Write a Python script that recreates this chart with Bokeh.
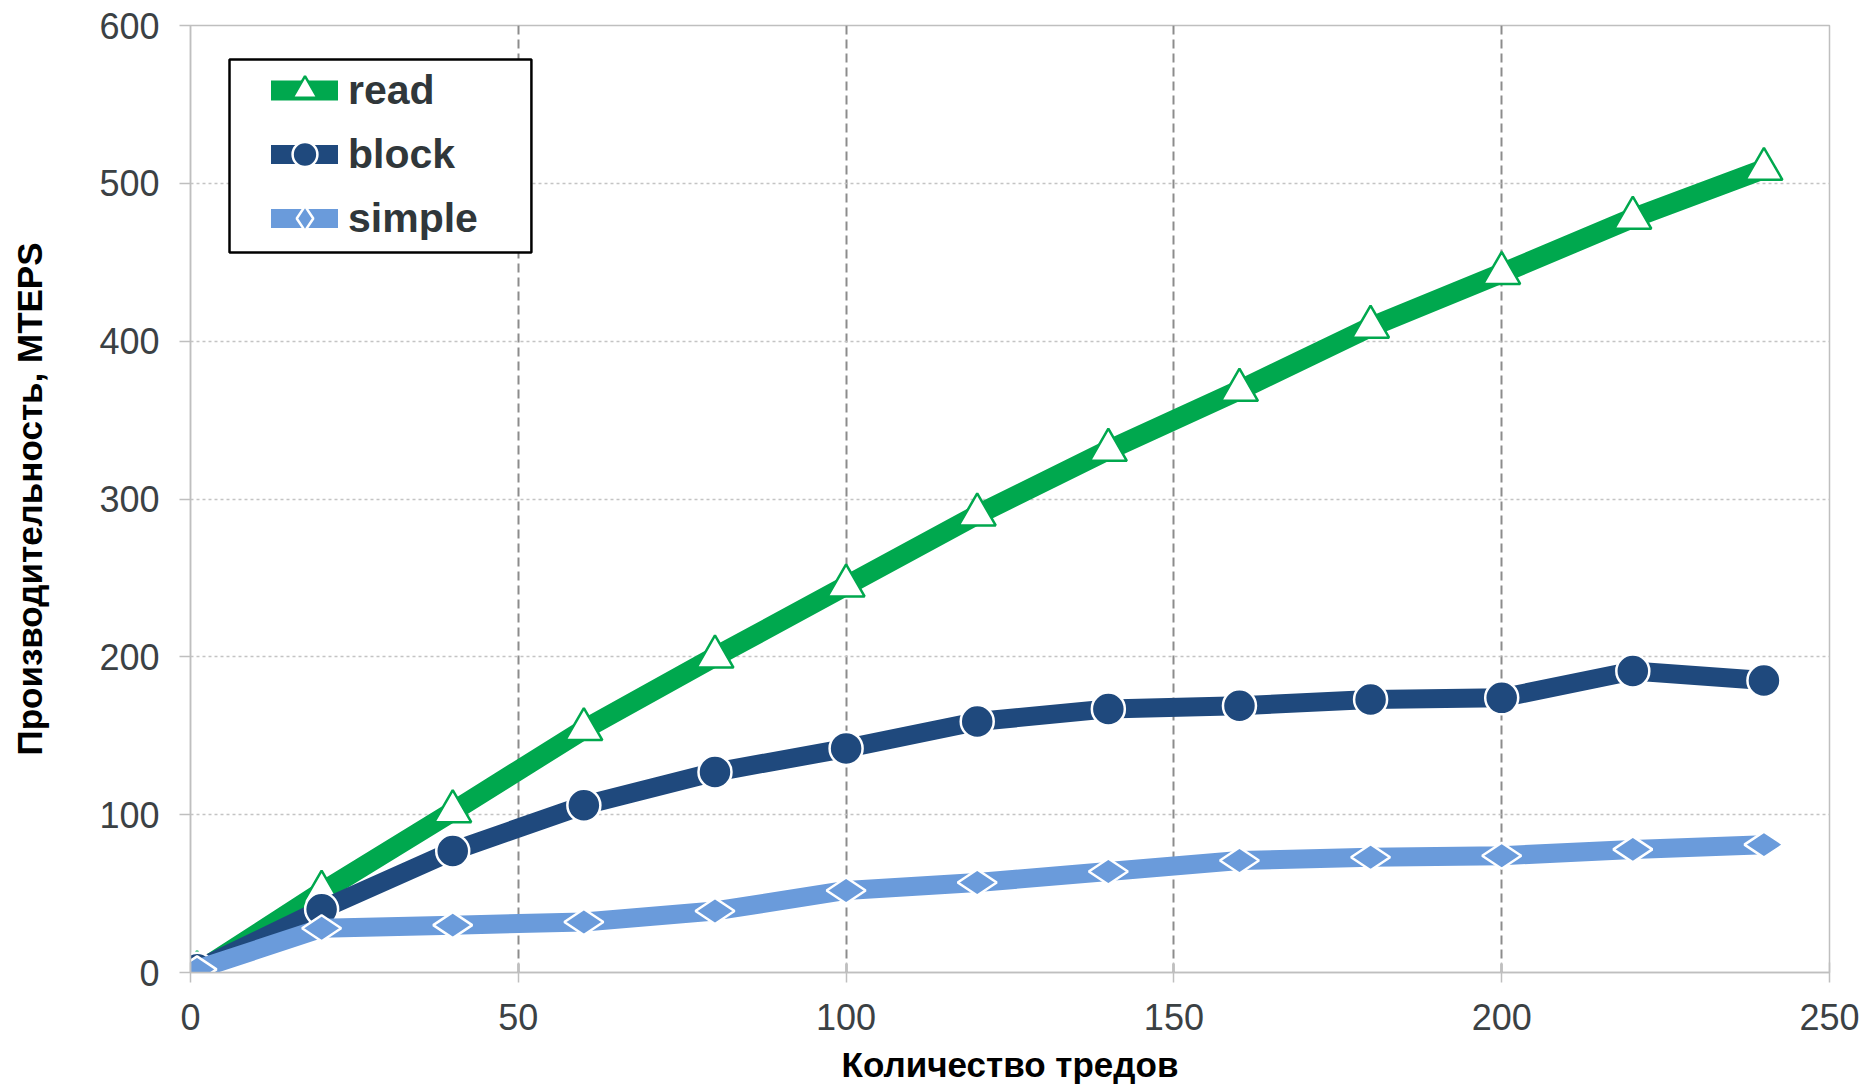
import math
from bokeh.plotting import figure
from bokeh.models import FixedTicker, Legend, LegendItem, BoxAnnotation, Range1d
from bokeh.embed import file_html
from bokeh.resources import INLINE

# ---- data ----
threads = [1, 20, 40, 60, 80, 100, 120, 140, 160, 180, 200, 220, 240]
read = [0, 51, 102, 154, 200, 245, 290, 331, 369, 409, 443, 478, 509]
block = [2, 40, 77, 106, 127, 142, 159, 167, 169, 173, 174, 191, 185]
simple = [2, 28, 30, 32, 39, 52, 57, 64, 71, 73, 74, 78, 81]
x_ticks = [0, 50, 100, 150, 200, 250]
y_ticks = [0, 100, 200, 300, 400, 500, 600]
series_names = ["read", "block", "simple"]
x_title = "Количество тредов"
y_title = "Производительность, MTEPS"

GREEN = "#00A84E"
NAVY = "#1F497D"
LIGHT = "#6A9BDB"
AXIS_GRAY = "#BFBFBF"
TICK_TEXT = "#3B4144"

p = figure(frame_width=1639, frame_height=947,
           min_border_left=190, min_border_right=30,
           min_border_top=25, min_border_bottom=113,
           x_range=Range1d(0, 250), y_range=Range1d(0, 600),
           output_backend="svg", toolbar_location=None)

p.outline_line_color = AXIS_GRAY
p.outline_line_width = 1.5

# grids
p.xgrid.ticker = FixedTicker(ticks=[t for t in x_ticks if t > 0])
p.xgrid.grid_line_color = "#8C8C8C"
p.xgrid.grid_line_width = 2
p.xgrid.grid_line_dash = "9 5"
p.ygrid.ticker = FixedTicker(ticks=[t for t in y_ticks if 0 < t < 600])
p.ygrid.grid_line_color = "#C4C4C4"
p.ygrid.grid_line_width = 1.5
p.ygrid.grid_line_dash = "3 3"

# axes
p.xaxis.ticker = FixedTicker(ticks=x_ticks)
p.yaxis.ticker = FixedTicker(ticks=y_ticks)
for ax in (p.xaxis, p.yaxis):
    ax.axis_line_color = AXIS_GRAY
    ax.axis_line_width = 1.5
    ax.major_tick_line_color = AXIS_GRAY
    ax.major_tick_line_width = 1.5
    ax.minor_tick_line_color = None
    ax.major_label_text_font = "Liberation Sans"
    ax.major_label_text_font_size = "36px"
    ax.major_label_text_color = TICK_TEXT
    ax.axis_label_text_font = "Liberation Sans"
    ax.axis_label_text_font_size = "35px"
    ax.axis_label_text_font_style = "bold"
    ax.axis_label_text_color = "#000000"

p.xaxis.major_tick_in = 10
p.xaxis.major_tick_out = 10
p.xaxis.major_label_standoff = 21
p.xaxis.axis_label = x_title
p.xaxis.axis_label_standoff = 12

p.yaxis.major_tick_in = 0
p.yaxis.major_tick_out = 11
p.yaxis.major_label_standoff = 20
p.yaxis.axis_label = y_title
p.yaxis.axis_label_standoff = 47

# series
lw = 19
r_line = p.line(threads, read, line_width=lw + 1, line_color=GREEN, line_join="round", line_cap="round")
r_mark = p.scatter(threads, read, marker="triangle", size=37, fill_color="white",
                   line_color=GREEN, line_width=2.5)
b_line = p.line(threads, block, line_width=lw, line_color=NAVY, line_join="round", line_cap="round")
b_mark = p.scatter(threads, block, marker="circle", size=33, fill_color=NAVY,
                   line_color="white", line_width=2.5)
s_line = p.line(threads, simple, line_width=lw, line_color=LIGHT, line_join="round", line_cap="round")
s_mark = p.scatter(threads, simple, marker="diamond", size=39, angle=math.pi / 2,
                   fill_color=LIGHT, line_color="white", line_width=2.5)

# legend frame
box = BoxAnnotation(left=5.95, right=52.0, top=578.5, bottom=456.2,
                    fill_color="white", fill_alpha=1.0,
                    line_color="black", line_alpha=1.0, line_width=2.5)
p.add_layout(box)

legend = Legend(items=[
    LegendItem(label=series_names[0], renderers=[r_line, r_mark]),
    LegendItem(label=series_names[1], renderers=[b_line, b_mark]),
    LegendItem(label=series_names[2], renderers=[s_line, s_mark]),
], location=(81, 723))
legend.padding = 0
legend.margin = 0
legend.spacing = 2
legend.glyph_height = 62
legend.glyph_width = 67
legend.label_standoff = 10
legend.label_text_font = "Liberation Sans"
legend.label_text_font_size = "41px"
legend.label_text_font_style = "bold"
legend.label_text_color = "#30373A"
legend.border_line_alpha = 0
legend.background_fill_alpha = 0
p.add_layout(legend)

open("out.html", "w").write(file_html(p, INLINE))
